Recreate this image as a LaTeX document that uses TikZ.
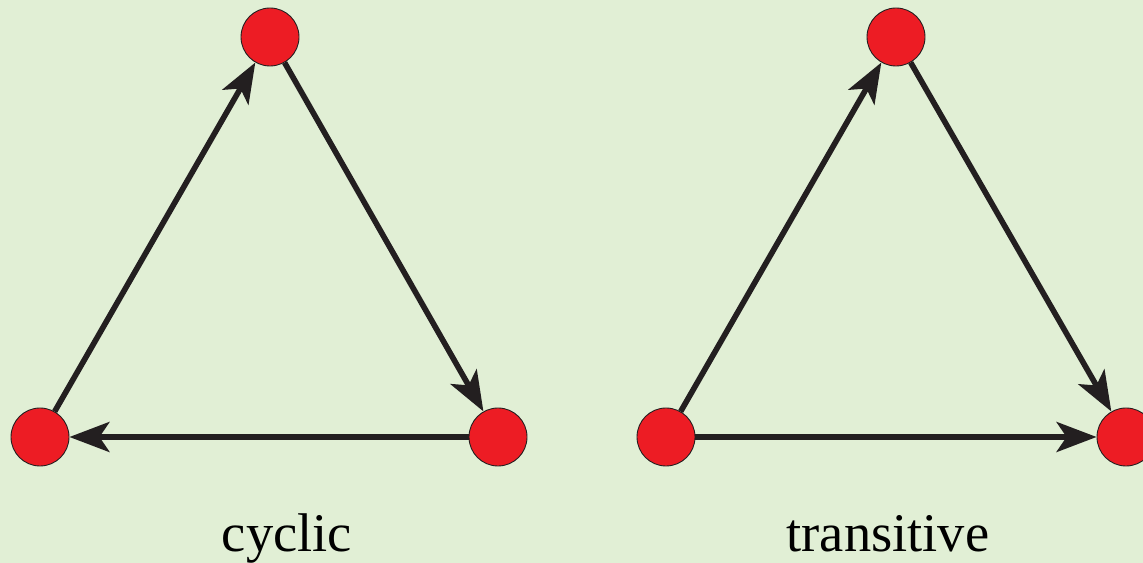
\documentclass[tikz,border=0pt]{standalone}
\usepackage{fontspec}
\setmainfont{Liberation Serif}
\usetikzlibrary{arrows.meta}
\definecolor{bgGreen}{RGB}{225,239,213}
\definecolor{dotRed}{RGB}{237,28,36}
\definecolor{arcBlack}{RGB}{35,31,32}
\tikzset{
  vert/.style={circle,fill=dotRed,draw=arcBlack,line width=0.5pt,minimum size=1.16cm,inner sep=0pt},
  arc/.style={draw=arcBlack,line width=3.2pt,-{Stealth[length=0.8cm,width=0.6cm,inset=0.2cm]}},
  caption/.style={font=\fontsize{31}{33}\selectfont,text=black,anchor=base,inner sep=0pt}
}
\begin{document}
\begin{tikzpicture}
            \useasboundingbox (0,0) rectangle (22.86,11.26);
            \fill[bgGreen] (0,0) rectangle (22.86,11.26);

            % cyclic
            \node[vert] (cTop) at (5.4,10.52) {};
            \node[vert] (cLeft) at (0.8,2.52) {};
            \node[vert] (cRight) at (9.96,2.52) {};
            \draw[arc] (cLeft)--(cTop);
            \draw[arc] (cTop)--(cRight);
            \draw[arc] (cRight)--(cLeft);
            \node[caption] (cLabel) at (5.74,0.22) {cyclic};

            % transitive
            \node[vert] (tTop) at (17.92,10.52) {};
            \node[vert] (tLeft) at (13.32,2.52) {};
            \node[vert] (tRight) at (22.52,2.52) {};
            \draw[arc] (tLeft)--(tTop);
            \draw[arc] (tTop)--(tRight);
            \draw[arc] (tLeft)--(tRight);
            \node[caption] (tLabel) at (17.76,0.22) {transitive};
        \end{tikzpicture}
\end{document}
